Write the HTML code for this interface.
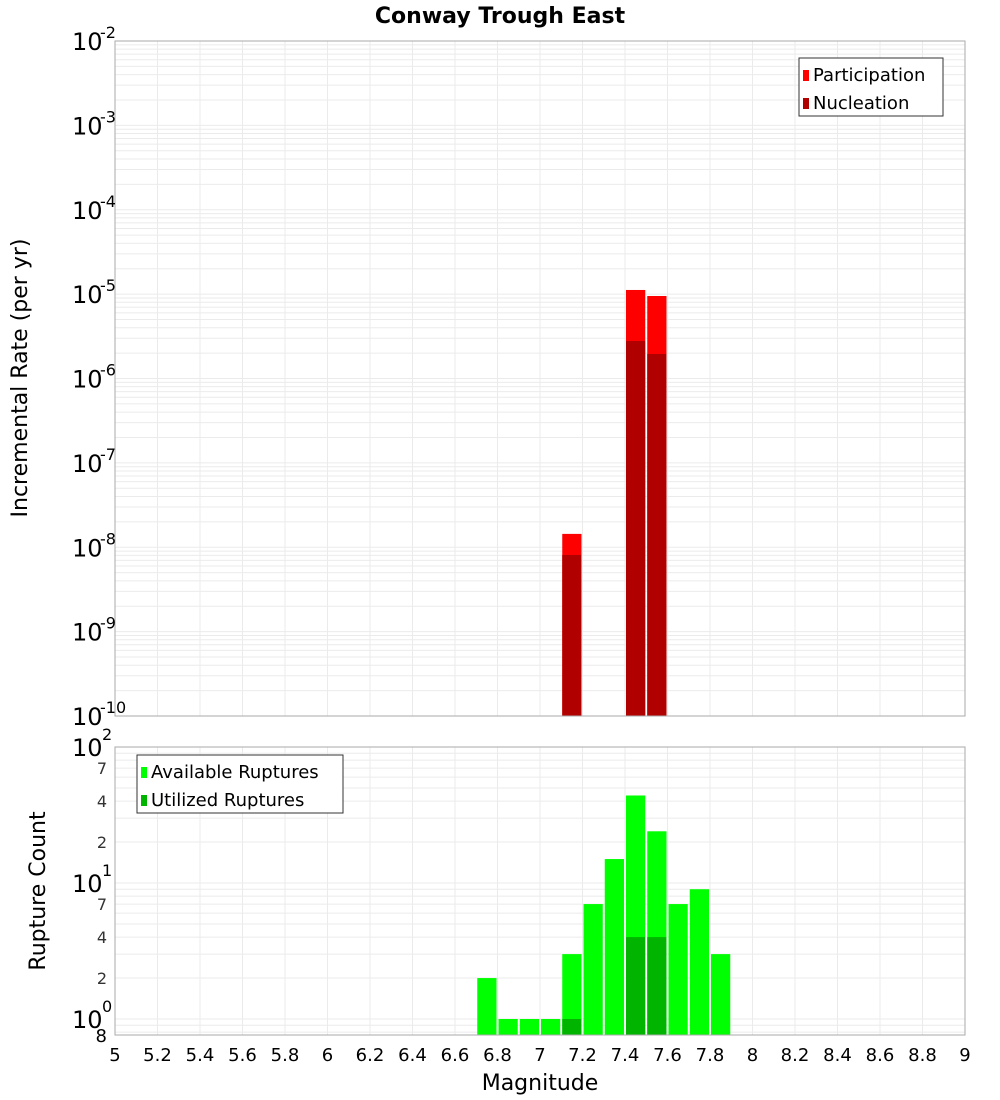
<!DOCTYPE html>
<html><head><meta charset="utf-8"><style>
html,body{margin:0;padding:0;background:#fff;}
svg{display:block;font-family:"DejaVu Sans","Liberation Sans",sans-serif;}
</style></head><body>
<svg id="chart" width="1000" height="1100" viewBox="0 0 1000 1100" xmlns="http://www.w3.org/2000/svg">
<text x="500" y="23" text-anchor="middle" font-size="22" font-weight="bold">Conway Trough East</text>
<g id="topg"></g><g id="botg"></g>
<text transform="translate(27,378) rotate(-90)" text-anchor="middle" font-size="22">Incremental Rate (per yr)</text>
<text transform="translate(45,891) rotate(-90)" text-anchor="middle" font-size="22">Rupture Count</text>
<text x="540" y="1090" text-anchor="middle" font-size="22">Magnitude</text>
</svg>
<script>
const rateMags = [7.15, 7.45, 7.55];
const participation = [1.44e-8, 1.12e-5, 9.5e-6];
const nucleation = [8.1e-9, 2.78e-6, 1.95e-6];
const countMags = [6.75, 6.85, 6.95, 7.05, 7.15, 7.25, 7.35, 7.45, 7.55, 7.65, 7.75, 7.85];
const available = [2, 1, 1, 1, 3, 7, 15, 44, 24, 7, 9, 3];
const utilMags = [7.15, 7.45, 7.55];
const utilized = [1, 4, 4];
const xTicks = [5,5.2,5.4,5.6,5.8,6,6.2,6.4,6.6,6.8,7,7.2,7.4,7.6,7.8,8,8.2,8.4,8.6,8.8,9];
const topExps = [-2,-3,-4,-5,-6,-7,-8,-9,-10];
const botMinor = [7,4,2];

const NS = "http://www.w3.org/2000/svg";
const X0 = 115, X1 = 965;
const x = m => X0 + (m - 5) / 4 * (X1 - X0);
const T0 = 41, T1 = 716;
const yT = v => T0 + (-2 - Math.log10(v)) / 8 * (T1 - T0);
const B0 = 747, B1 = 1035, BPD = 136;
const yB = v => B0 + (2 - Math.log10(v)) * BPD;
function mk(p, tag, a, txt) { const e = document.createElementNS(NS, tag); for (const k in a) e.setAttribute(k, a[k]); if (txt !== undefined) e.textContent = txt; p.appendChild(e); return e; }
const topG = document.getElementById('topg'), botG = document.getElementById('botg');

for (let e = -10; e < -2; e++) for (let k = 1; k < 10; k++) {
  const yy = yT(k * Math.pow(10, e));
  const l = mk(topG, 'line', {x1: X0, x2: X1, y1: yy, y2: yy, stroke: '#ebebeb', 'stroke-width': 1});
  
  
}
xTicks.forEach(t => {
  const l = mk(topG, 'line', {x1: x(t), x2: x(t), y1: T0, y2: T1, stroke: '#ebebeb'});
  
  
  const l2 = mk(botG, 'line', {x1: x(t), x2: x(t), y1: B0, y2: B1, stroke: '#ebebeb'});
  
  
});
for (let e = -1; e < 2; e++) for (let k = 1; k < 10; k++) {
  const yy = yB(k * Math.pow(10, e));
  if (yy < B0 || yy > B1) continue;
  const l = mk(botG, 'line', {x1: X0, x2: X1, y1: yy, y2: yy, stroke: '#ebebeb'});
  
  
}
rateMags.forEach((m, i) => {
  const bx = x(m - 0.05) + 1, bw = x(m + 0.05) - x(m - 0.05) - 2;
  const r = mk(topG, 'rect', {x: bx, y: yT(participation[i]), width: bw, height: T1 - yT(participation[i]), fill: '#ff0000'});
  
  
  const n = mk(topG, 'rect', {x: bx, y: yT(nucleation[i]), width: bw, height: T1 - yT(nucleation[i]), fill: '#b00000'});
  
  
});
countMags.forEach((m, i) => {
  const bx = x(m - 0.05) + 1, bw = x(m + 0.05) - x(m - 0.05) - 2;
  const r = mk(botG, 'rect', {x: bx, y: yB(available[i]), width: bw, height: B1 - yB(available[i]), fill: '#00ff00'});
  
  
});
utilMags.forEach((m, i) => {
  const bx = x(m - 0.05) + 1, bw = x(m + 0.05) - x(m - 0.05) - 2;
  const r = mk(botG, 'rect', {x: bx, y: yB(utilized[i]), width: bw, height: B1 - yB(utilized[i]), fill: '#00b400'});
  
  
});
const f1 = mk(topG, 'rect', {x: X0, y: T0, width: X1 - X0, height: T1 - T0, fill: 'none', stroke: '#aaa'});


const f2 = mk(botG, 'rect', {x: X0, y: B0, width: X1 - X0, height: B1 - B0, fill: 'none', stroke: '#aaa'});


topExps.forEach(e => {
  const yy = yT(Math.pow(10, e));
  const t = mk(topG, 'text', {x: 72, y: yy + 9, 'font-size': 24}, '10');
  
  
  const s = mk(topG, 'text', {x: 100, y: yy - 3, 'font-size': 16}, String(e));
  
  
});
[2, 1, 0].forEach(e => {
  const yy = yB(Math.pow(10, e));
  const t = mk(botG, 'text', {x: 72, y: yy + 9, 'font-size': 24}, '10');
  
  
  const s = mk(botG, 'text', {x: 102, y: yy - 7, 'font-size': 16}, String(e));
  
  
});
[1, 0].forEach(e => botMinor.forEach(k => {
  const yy = yB(k * Math.pow(10, e));
  const t = mk(botG, 'text', {x: 107, y: yy + 6, 'font-size': 16, 'text-anchor': 'end', fill: '#333'}, String(k));
  
  
}));
const t8 = mk(botG, 'text', {x: 107, y: 1042, 'font-size': 18, 'text-anchor': 'end'}, '8');


xTicks.forEach(t => {
  const e = mk(botG, 'text', {x: x(t), y: 1061, 'font-size': 18, 'text-anchor': 'middle'}, String(t));
  
  
});
function legend(p, lx, ly, w, items, name) {
  const g = mk(p, 'g', {});
  
  
  mk(g, 'rect', {x: lx, y: ly, width: w, height: 58, fill: '#fff', stroke: '#333'});
  items.forEach((it, i) => {
    const r = mk(g, 'rect', {x: lx + 4, y: ly + 12 + i * 28, width: 6, height: 11, fill: it[1]});
    
    
    const t = mk(g, 'text', {x: lx + 14, y: ly + 23 + i * 28, 'font-size': 18}, it[0]);
    
    
  });
}
legend(topG, 799, 58, 144, [['Participation', '#ff0000'], ['Nucleation', '#b00000']], 'top-legend');
legend(botG, 137, 755, 206, [['Available Ruptures', '#00ff00'], ['Utilized Ruptures', '#00b400']], 'bottom-legend');
</script>
</body></html>
